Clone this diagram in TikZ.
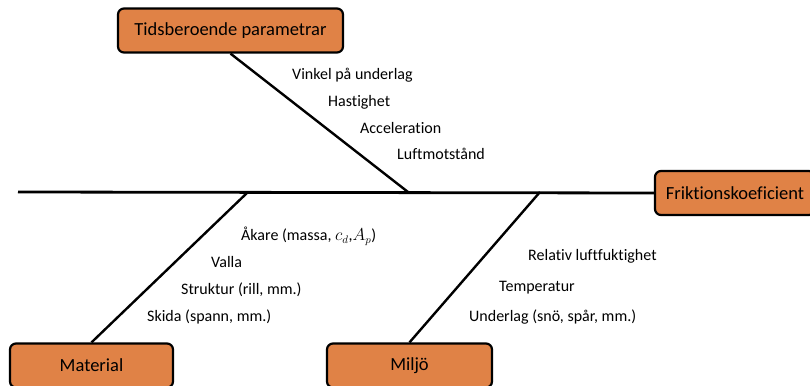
\documentclass[tikz,border=0pt]{standalone}
\usepackage{fontspec}
\setmainfont{Carlito}[Ligatures=NoCommon]
\definecolor{boxorange}{RGB}{224,130,70}
\begin{document}
\begin{tikzpicture}[x=1pt,y=-1pt,
  cause/.style={draw=black,line width=2.2pt,rounded corners=6pt,fill=boxorange,
    minimum height=44pt,font=\fontsize{18.5}{21}\selectfont},
  item/.style={anchor=west,inner sep=0pt,font=\fontsize{16}{19}\selectfont},
  bone/.style={line width=2.4pt}]
\useasboundingbox (0,0) rectangle (810,385);
\coordinate (tail) at (18,192);
\coordinate (jtop) at (408,192);
\coordinate (jmat) at (248,192);
\coordinate (jmil) at (540,192);
\node[cause,minimum width=225pt] (tid) at (230.5,30.5) {Tidsberoende parametrar};
\node[cause,minimum width=160pt] (frik) at (735,193) {Friktionskoeficient};
\node[cause,minimum width=163pt] (mat) at (91.5,365.5) {Material};
\node[cause,minimum width=165pt] (milj) at (409.5,365.5) {Miljö};
\draw[bone,line width=2.8pt] (tail) -- (frik.west);
\draw[bone] (tid.south) -- (jtop);
\draw[bone] (jmat) -- (mat.north);
\draw[bone] (jmil) -- (milj.north);
\foreach \n/\x/\y/\txt in {vinkel/292/75/{Vinkel på underlag},hast/328/102/Hastighet,
    acc/360/128/Acceleration,luft/397/154/Luftmotstånd}
  \node[item] (\n) at (\x,\y) {\txt};
\foreach \n/\x/\y/\txt in {akare/241/236/{Åkare (massa, $c_d$,$A_p$)},valla/211/262/Valla,
    strukt/181/290/{Struktur (rill, mm.)},skida/147/317/{Skida (spann, mm.)}}
  \node[item] (\n) at (\x,\y) {\txt};
\foreach \n/\x/\y/\txt in {rel/528/256/{Relativ luftfuktighet},temp/499/288/Temperatur,
    under/469/317/{Underlag (snö, spår, mm.)}}
  \node[item] (\n) at (\x,\y) {\txt};
\end{tikzpicture}
\end{document}
